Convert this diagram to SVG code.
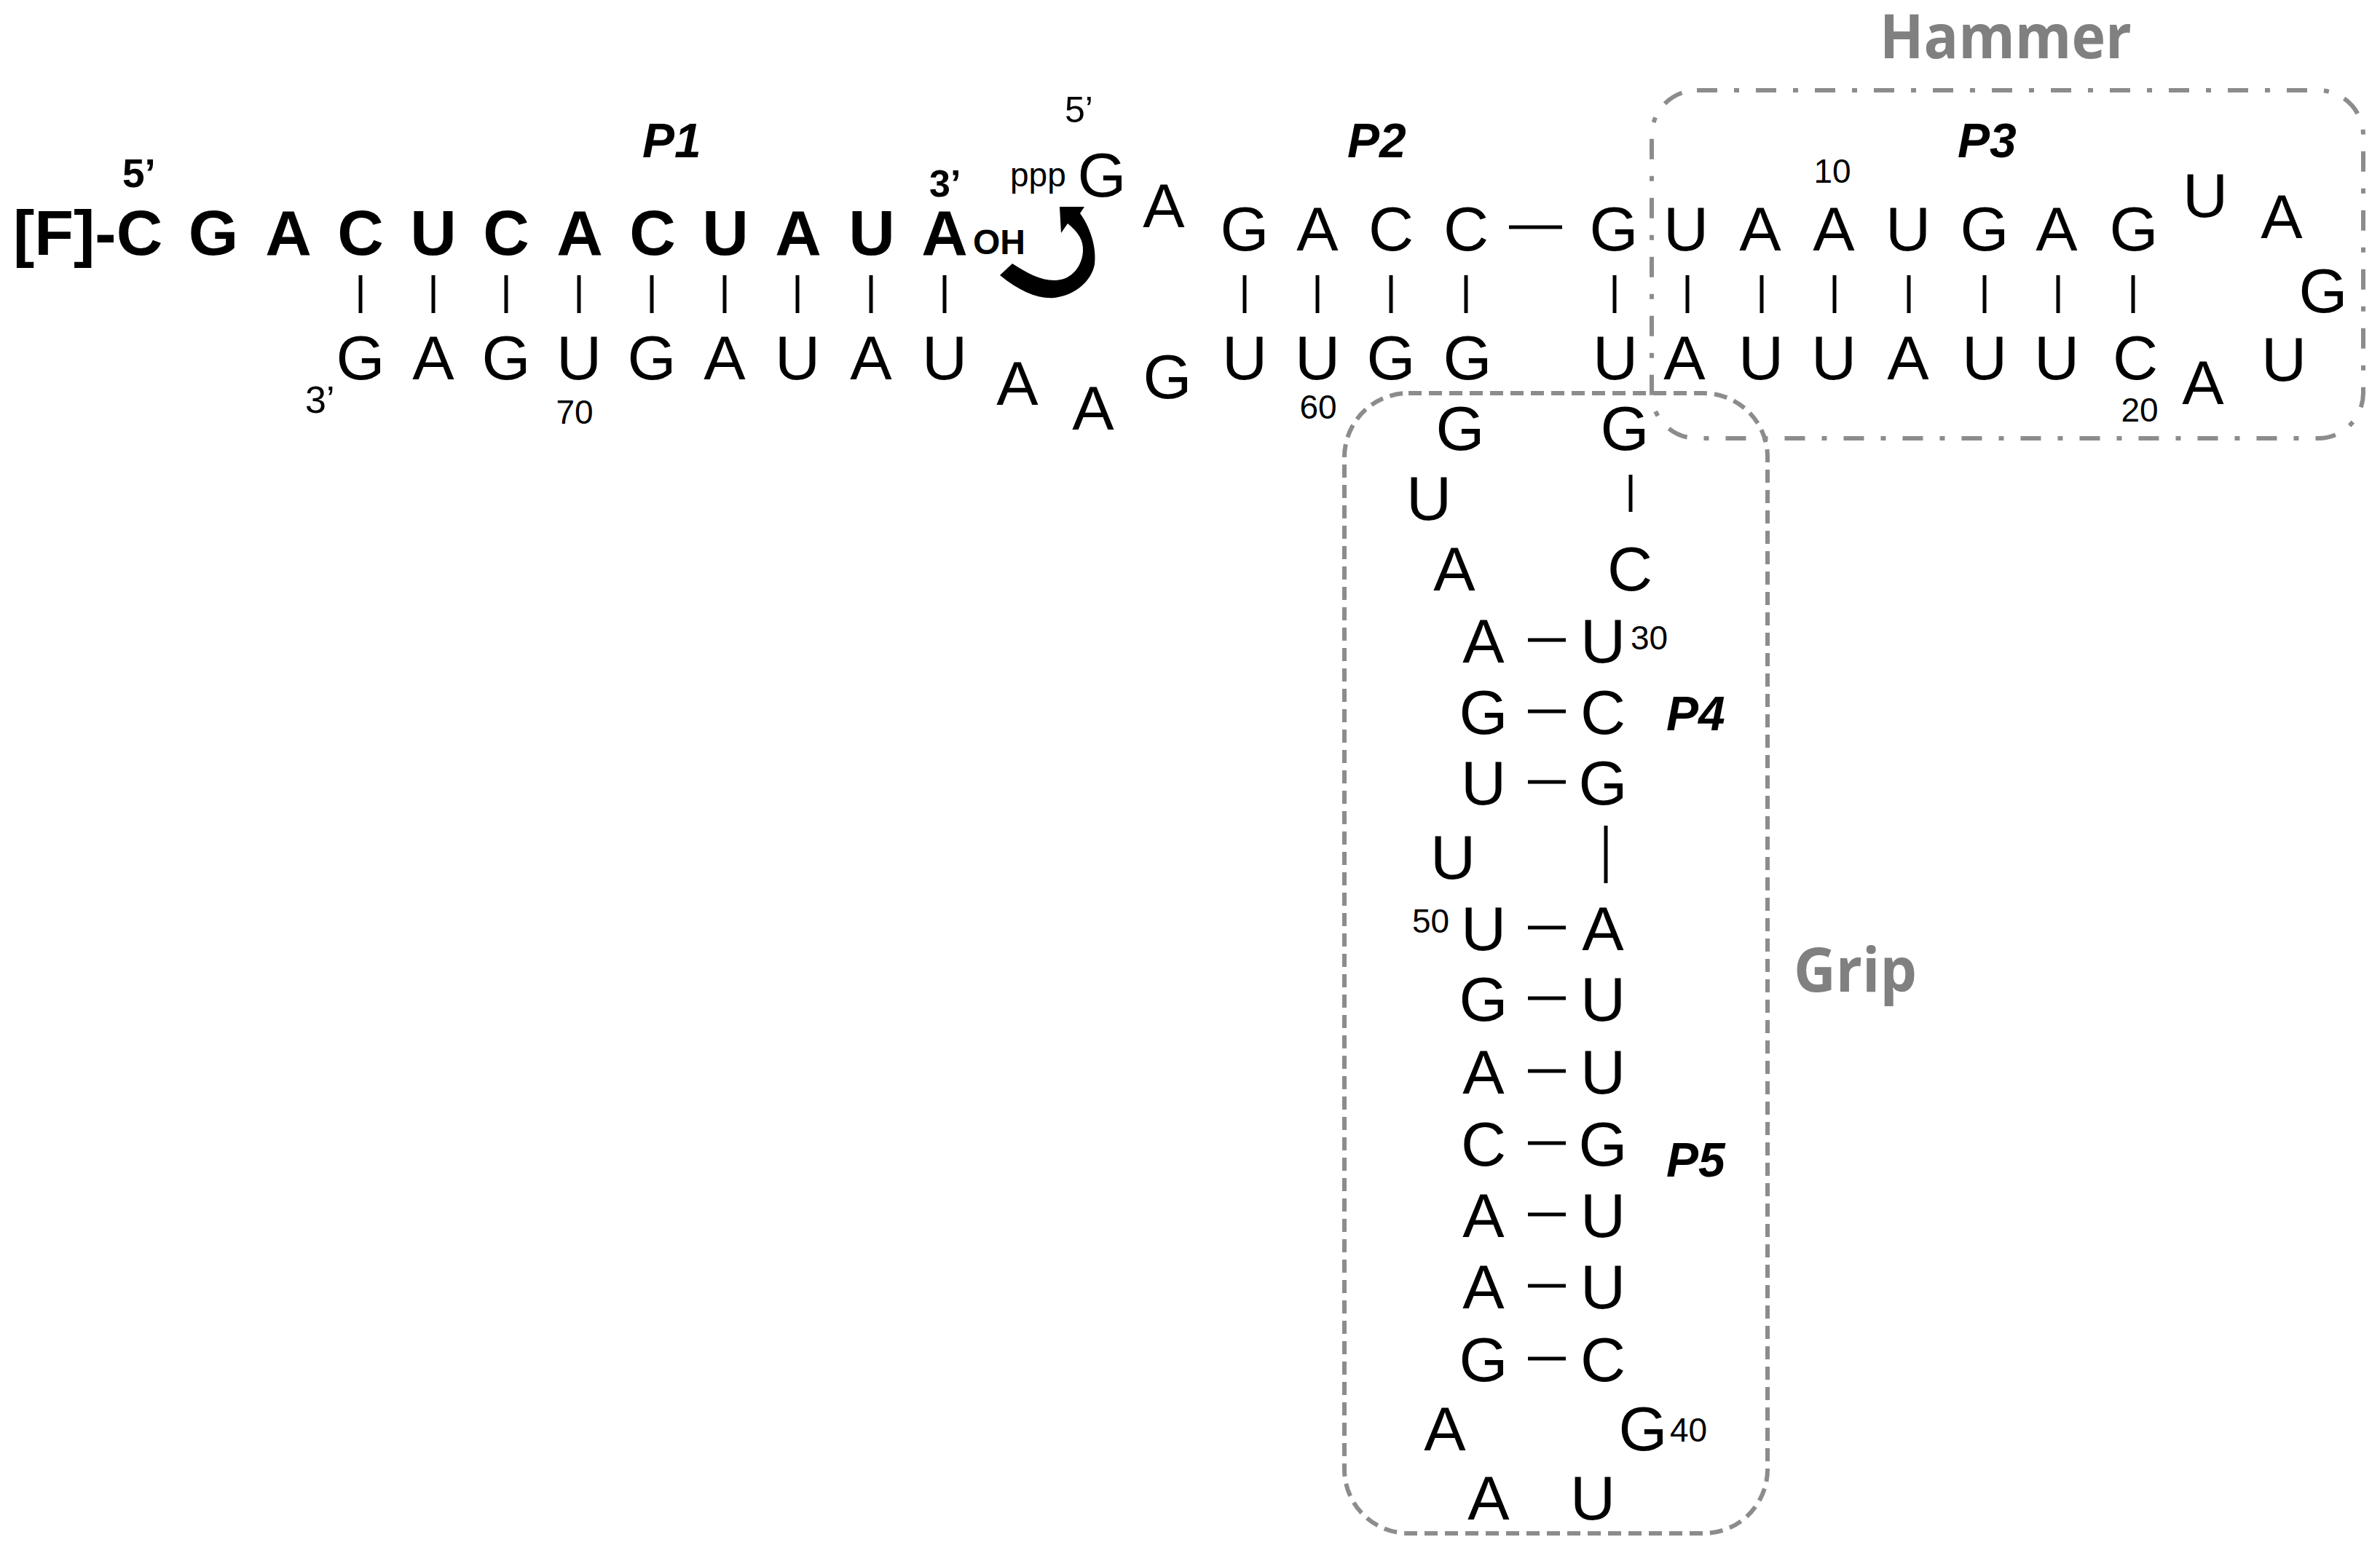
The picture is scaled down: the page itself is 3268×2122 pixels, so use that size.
<svg xmlns="http://www.w3.org/2000/svg" width="3268" height="2122" viewBox="0 0 3268 2122">
<style>
.n{font-family:"Liberation Sans",Arial,sans-serif;font-size:86px;fill:#000;text-anchor:middle}
.b{font-family:"Liberation Sans",Arial,sans-serif;font-size:88px;font-weight:bold;fill:#000;text-anchor:middle}
.num{font-family:"Liberation Sans",Arial,sans-serif;font-size:46px;fill:#000}
.lbl{font-family:"Liberation Sans",Arial,sans-serif;font-size:66px;font-weight:bold;font-style:italic;fill:#000}
.reg{font-family:"Open Sans","Liberation Sans",sans-serif;font-size:84px;font-weight:bold;fill:#808080}
.bp{stroke:#000;stroke-width:5;fill:none}
.box1{fill:none;stroke:#8c8c8c;stroke-width:6;stroke-dasharray:28 23 7 23}
.box2{fill:none;stroke:#8c8c8c;stroke-width:6;stroke-dasharray:18 10}
</style>
<rect width="3268" height="2122" fill="#fff"/>

<g id="hammer-box">
<rect class="box1" x="2268" y="124" width="977" height="478" rx="62" ry="62"/>
<text class="reg" x="2581" y="80" textLength="346" lengthAdjust="spacingAndGlyphs">Hammer</text>
</g>
<g id="grip-box">
<rect class="box2" x="1846" y="540" width="581" height="1566" rx="88" ry="88"/>
<text class="reg" x="2463" y="1362" textLength="169" lengthAdjust="spacingAndGlyphs">Grip</text>
</g>

<g id="substrate">
<text x="168" y="257" style="font-family:'Liberation Sans',Arial,sans-serif;font-size:55px;font-weight:bold">5’</text>
<text x="18" y="350" style="font-family:'Liberation Sans',Arial,sans-serif;font-size:88px;font-weight:bold">[F]-C</text>
<text class="b" x="293" y="350">G</text>
<text class="b" x="396" y="350">A</text>
<text class="b" x="495" y="350">C</text>
<text class="b" x="595" y="350">U</text>
<text class="b" x="695" y="350">C</text>
<text class="b" x="796" y="350">A</text>
<text class="b" x="896" y="350">C</text>
<text class="b" x="996" y="350">U</text>
<text class="b" x="1096" y="350">A</text>
<text class="b" x="1197" y="350">U</text>
<text class="b" x="1297" y="350">A</text>
<text x="1276" y="270" style="font-family:'Liberation Sans',Arial,sans-serif;font-size:52px;font-weight:bold">3’</text>
<text x="1336" y="349" style="font-family:'Liberation Sans',Arial,sans-serif;font-size:48px;font-weight:bold">OH</text>
</g>

<g id="p1-ribozyme">
<text class="n" x="495" y="521">G</text>
<text class="n" x="595" y="521">A</text>
<text class="n" x="695" y="521">G</text>
<text class="n" x="795" y="521">U</text>
<text class="n" x="895" y="521">G</text>
<text class="n" x="995" y="521">A</text>
<text class="n" x="1095" y="521">U</text>
<text class="n" x="1196" y="521">A</text>
<text class="n" x="1297" y="521">U</text>
<text x="419" y="567" style="font-family:'Liberation Sans',Arial,sans-serif;font-size:52px">3’</text>
<text class="num" x="789" y="582" text-anchor="middle">70</text>
<text class="lbl" x="882" y="216">P1</text>
</g>

<g id="j12">
<text class="n" x="1397" y="556">A</text>
<text class="n" x="1501" y="590">A</text>
<text class="n" x="1603" y="547">G</text>
<text x="1387" y="256" style="font-family:'Liberation Sans',Arial,sans-serif;font-size:46px">ppp</text>
<text x="1462" y="168" style="font-family:'Liberation Sans',Arial,sans-serif;font-size:50px">5’</text>
<text class="n" x="1513" y="270">G</text>
<text class="n" x="1598" y="312">A</text>
</g>

<g id="p2">
<text class="lbl" x="1850" y="216">P2</text>
<text class="n" x="1709" y="344">G</text>
<text class="n" x="1809" y="344">A</text>
<text class="n" x="1910" y="344">C</text>
<text class="n" x="2013" y="344">C</text>
<text class="n" x="2216" y="344">G</text>
<text class="n" x="1709" y="521">U</text>
<text class="n" x="1809" y="521">U</text>
<text class="n" x="1910" y="521">G</text>
<text class="n" x="2015" y="521">G</text>
<text class="n" x="2218" y="521">U</text>
<text class="num" x="1810" y="575" text-anchor="middle">60</text>
</g>

<g id="p3">
<text class="lbl" x="2688" y="216">P3</text>
<text class="num" x="2516" y="251" text-anchor="middle">10</text>
<text class="n" x="2315" y="344">U</text>
<text class="n" x="2417" y="344">A</text>
<text class="n" x="2518" y="344">A</text>
<text class="n" x="2620" y="344">U</text>
<text class="n" x="2725" y="344">G</text>
<text class="n" x="2824" y="344">A</text>
<text class="n" x="2930" y="344">G</text>
<text class="n" x="2313" y="521">A</text>
<text class="n" x="2418" y="521">U</text>
<text class="n" x="2518" y="521">U</text>
<text class="n" x="2620" y="521">A</text>
<text class="n" x="2725" y="521">U</text>
<text class="n" x="2824" y="521">U</text>
<text class="n" x="2932" y="521">C</text>
<text class="num" x="2938" y="579" text-anchor="middle">20</text>
<text class="n" x="3028" y="298">U</text>
<text class="n" x="3133" y="327">A</text>
<text class="n" x="3190" y="429">G</text>
<text class="n" x="3136" y="523">U</text>
<text class="n" x="3025" y="555">A</text>
</g>

<g id="p4-p5">
<text class="n" x="2005" y="618">G</text>
<text class="n" x="2231" y="618">G</text>
<text class="n" x="1962" y="714">U</text>
<text class="n" x="1997" y="811">A</text>
<text class="n" x="2238" y="811">C</text>
<text class="n" x="2037" y="910">A</text>
<text class="n" x="2201" y="910">U</text>
<text class="num" x="2239" y="892">30</text>
<text class="n" x="2037" y="1008">G</text>
<text class="n" x="2201" y="1008">C</text>
<text class="lbl" x="2288" y="1003">P4</text>
<text class="n" x="2037" y="1105">U</text>
<text class="n" x="2201" y="1105">G</text>
<text class="n" x="1995" y="1207">U</text>
<text class="num" x="1939" y="1281">50</text>
<text class="n" x="2037" y="1305">U</text>
<text class="n" x="2201" y="1305">A</text>
<text class="n" x="2037" y="1402">G</text>
<text class="n" x="2201" y="1402">U</text>
<text class="n" x="2037" y="1502">A</text>
<text class="n" x="2201" y="1502">U</text>
<text class="n" x="2037" y="1601">C</text>
<text class="n" x="2201" y="1601">G</text>
<text class="lbl" x="2288" y="1616">P5</text>
<text class="n" x="2037" y="1699">A</text>
<text class="n" x="2201" y="1699">U</text>
<text class="n" x="2037" y="1797">A</text>
<text class="n" x="2201" y="1797">U</text>
<text class="n" x="2037" y="1897">G</text>
<text class="n" x="2201" y="1897">C</text>
<text class="n" x="1984" y="1992">A</text>
<text class="n" x="2256" y="1992">G</text>
<text class="num" x="2293" y="1980">40</text>
<text class="n" x="2044" y="2087">A</text>
<text class="n" x="2187" y="2087">U</text>
</g>

<g id="connectors">
<g class="bp">
<path d="M495 378V430M595 378V430M695 378V430M795 378V430M895 378V430M995 378V430M1095 378V430M1196 378V430M1297 378V430"/>
<path d="M1709 378V430M1809 378V430M1910 378V430M2013 378V430M2217 378V430"/>
<path d="M2317 378V430M2419 378V430M2519 378V430M2621 378V430M2725 378V430M2826 378V430M2929 378V430"/>
<path d="M2072 312H2145"/>
<path d="M2239 652V703M2205 1134V1213"/>
<path d="M2098 879H2150M2098 977H2150M2098 1074H2150M2098 1274H2150M2098 1371H2150M2098 1471H2150M2098 1570H2150M2098 1668H2150M2098 1766H2150M2098 1866H2150"/>
</g>
<path id="attack-arrow" fill="#000" d="M1455 284 L1489 284 L1483 293 C1497 312 1506 340 1503 363 C1499 385 1478 405 1448 409 C1425 411 1400 400 1373 378 L1390 362 C1410 375 1430 386 1450 385 C1472 384 1486 365 1487 345 C1488 330 1480 318 1466 307 L1457 320 Z"/>
</g>
</svg>
